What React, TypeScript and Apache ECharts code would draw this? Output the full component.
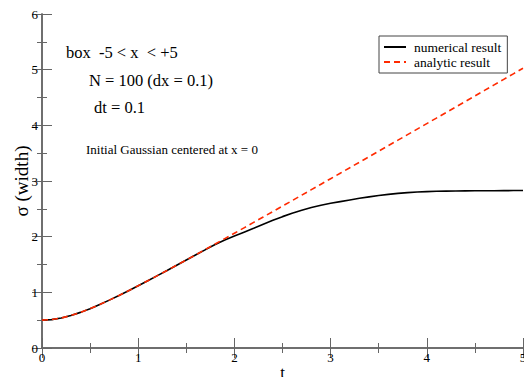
import React, { useEffect, useRef } from "react";
import * as echarts from "echarts";

const tValues = [
  0, 0.1, 0.2, 0.3, 0.4, 0.5, 0.6, 0.7, 0.8, 0.9, 1.0, 1.1, 1.2, 1.3, 1.4, 1.5, 1.6, 1.7, 1.8, 1.9,
  2.0, 2.1, 2.2, 2.3, 2.4, 2.5, 2.6, 2.7, 2.8, 2.9, 3.0, 3.1, 3.2, 3.3, 3.4, 3.5, 3.6, 3.7, 3.8, 3.9,
  4.0, 4.1, 4.2, 4.3, 4.4, 4.5, 4.6, 4.7, 4.8, 4.9, 5.0,
];

const numericalSigma = [
  0.5, 0.51, 0.538, 0.583, 0.64, 0.707, 0.781, 0.86, 0.943, 1.03, 1.118, 1.208, 1.3, 1.392, 1.486,
  1.58, 1.675, 1.768, 1.858, 1.94, 2.01, 2.08, 2.15, 2.225, 2.295, 2.36, 2.42, 2.475, 2.525, 2.565,
  2.6, 2.63, 2.66, 2.69, 2.715, 2.74, 2.76, 2.778, 2.792, 2.803, 2.81, 2.815, 2.818, 2.82, 2.822,
  2.824, 2.825, 2.826, 2.827, 2.828, 2.828,
];

const analyticSigma = [
  0.5, 0.51, 0.5385, 0.5831, 0.6403, 0.7071, 0.781, 0.8602, 0.9434, 1.0296, 1.118, 1.2083, 1.3,
  1.3928, 1.4866, 1.5811, 1.6763, 1.772, 1.8682, 1.9647, 2.0616, 2.1587, 2.2561, 2.3537, 2.4515,
  2.5495, 2.6476, 2.7459, 2.8443, 2.9428, 3.0414, 3.1401, 3.2388, 3.3377, 3.4366, 3.5355, 3.6346,
  3.7336, 3.8328, 3.9319, 4.0311, 4.1304, 4.2297, 4.329, 4.4283, 4.5277, 4.6271, 4.7265, 4.826,
  4.9254, 5.0249,
];

const seriesNames = ["numerical result", "analytic result"];

const annotations = [
  "box  -5 < x  < +5",
  "N = 100 (dx = 0.1)",
  "dt = 0.1",
  "Initial Gaussian centered at x = 0",
];

const SERIF = "Liberation Serif";
const AXIS_COLOR = "#666";

export default function App() {
  const ref = useRef<HTMLDivElement>(null);

  useEffect(() => {
    if (!ref.current) return;
    const chart = echarts.init(ref.current, undefined, { renderer: "svg" });
    const tickCommon = {
      show: true,
      inside: true,
      length: 10,
      lineStyle: { color: AXIS_COLOR, width: 1 },
    };
    const minorCommon = {
      show: true,
      splitNumber: 2,
      length: 5,
      lineStyle: { color: AXIS_COLOR, width: 1 },
    };
    const lineCommon = { show: true, lineStyle: { color: AXIS_COLOR, width: 1.5 } };
    chart.setOption({
      animation: false,
      backgroundColor: "#fff",
      textStyle: { fontFamily: SERIF },
      grid: {
        left: 42,
        right: 1,
        top: 14,
        bottom: 29,
        containLabel: false,
        outerBoundsMode: "none",
      },
      xAxis: [
        {
          type: "value",
          min: 0,
          max: 5,
          interval: 1,
          name: "t",
          nameLocation: "middle",
          nameGap: 16,
          nameMoveOverlap: false,
          nameTextStyle: { fontFamily: SERIF, fontSize: 17, color: "#000" },
          axisLine: lineCommon,
          axisTick: tickCommon,
          minorTick: minorCommon,
          splitLine: { show: false },
          axisLabel: { fontFamily: SERIF, fontSize: 13, color: "#000", margin: 3 },
        },
        {
          type: "value",
          position: "top",
          min: 0,
          max: 5,
          interval: 1,
          axisLine: lineCommon,
          axisTick: tickCommon,
          minorTick: minorCommon,
          splitLine: { show: false },
          axisLabel: { show: false },
        },
      ],
      yAxis: [
        {
          type: "value",
          min: 0,
          max: 6,
          interval: 1,
          name: "σ (width)",
          nameLocation: "middle",
          nameGap: 11,
          nameMoveOverlap: false,
          nameRotate: 90,
          nameTextStyle: { fontFamily: SERIF, fontSize: 19, color: "#000" },
          axisLine: lineCommon,
          axisTick: tickCommon,
          minorTick: minorCommon,
          splitLine: { show: false },
          axisLabel: { fontFamily: SERIF, fontSize: 13, color: "#000", margin: 4 },
        },
        {
          type: "value",
          position: "right",
          min: 0,
          max: 6,
          interval: 1,
          axisLine: lineCommon,
          axisTick: tickCommon,
          minorTick: minorCommon,
          splitLine: { show: false },
          axisLabel: { show: false },
        },
      ],
      legend: {
        left: 379,
        top: 36,
        orient: "vertical",
        itemWidth: 22,
        itemHeight: 10,
        itemGap: 1,
        padding: [4, 6, 4, 4],
        borderColor: "#444",
        borderWidth: 1,
        borderRadius: 0,
        backgroundColor: "#fff",
        itemStyle: { opacity: 0 },
        textStyle: { fontFamily: SERIF, fontSize: 13.5, color: "#000", padding: [0, 0, 0, 3] },
        data: seriesNames,
      },
      series: [
        {
          name: seriesNames[0],
          type: "line",
          data: tValues.map((t, i) => [t, numericalSigma[i]]),
          symbol: "none",
          lineStyle: { color: "#000", width: 1.6 },
          itemStyle: { color: "#000" },
          z: 2,
        },
        {
          name: seriesNames[1],
          type: "line",
          data: tValues.map((t, i) => [t, analyticSigma[i]]),
          symbol: "none",
          lineStyle: { color: "#ff2a00", width: 1.6, type: [6, 4] },
          itemStyle: { color: "#ff2a00" },
          z: 3,
        },
      ],
      graphic: [
        {
          type: "text",
          left: 66,
          top: 44,
          style: { text: annotations[0], fontFamily: SERIF, fontSize: 16.5, fill: "#000" },
        },
        {
          type: "text",
          left: 89,
          top: 72,
          style: { text: annotations[1], fontFamily: SERIF, fontSize: 16.5, fill: "#000" },
        },
        {
          type: "text",
          left: 94,
          top: 99,
          style: { text: annotations[2], fontFamily: SERIF, fontSize: 16.5, fill: "#000" },
        },
        {
          type: "text",
          left: 86,
          top: 143,
          style: { text: annotations[3], fontFamily: SERIF, fontSize: 13, fill: "#000" },
        },
      ],
    });
    return () => chart.dispose();
  }, []);

  return (
    <div
      ref={ref}
      style={{ position: "fixed", left: 0, top: 0, width: 524, height: 377, background: "#fff" }}
    />
  );
}
